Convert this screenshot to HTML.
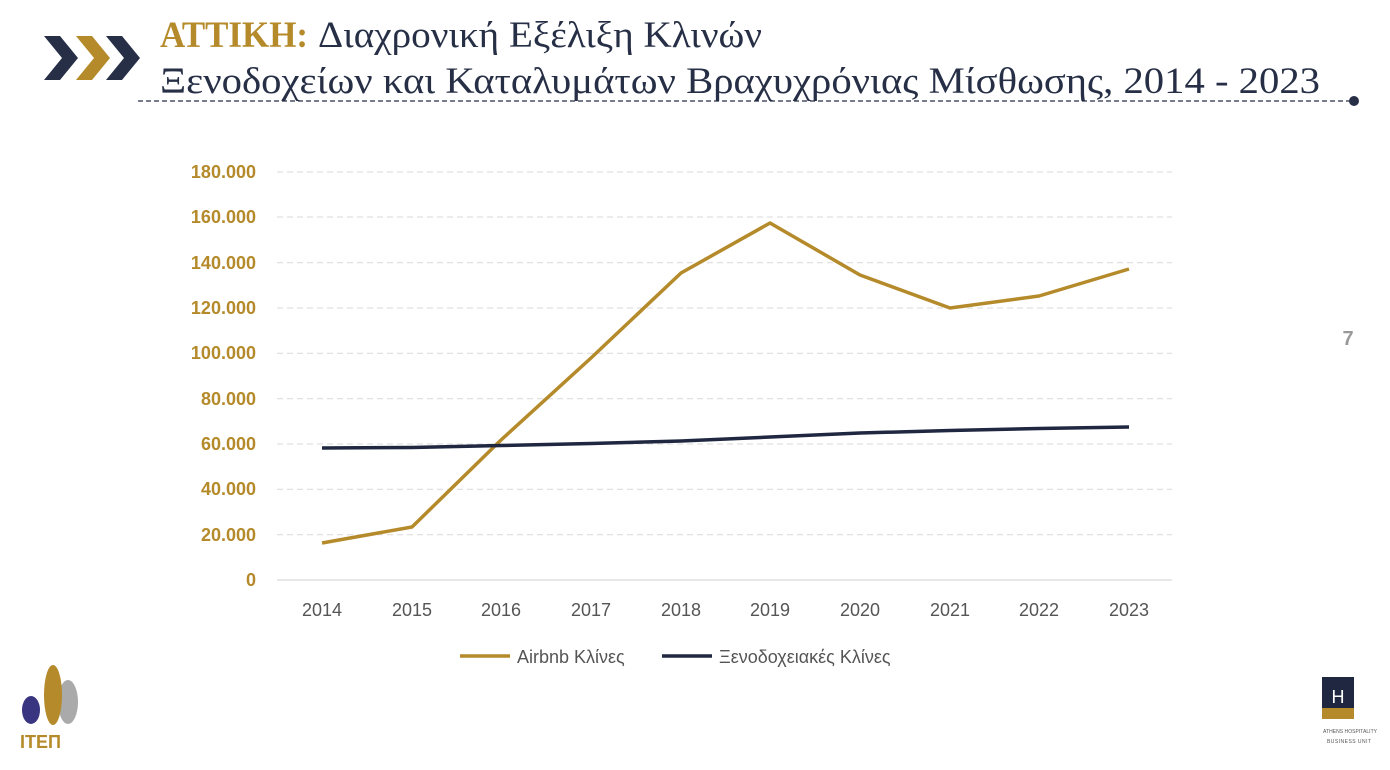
<!DOCTYPE html>
<html><head><meta charset="utf-8"><style>
body{margin:0;width:1390px;height:765px;background:#fff;overflow:hidden;font-family:"Liberation Sans",sans-serif}
</style></head><body>
<svg width="1390" height="765" xmlns="http://www.w3.org/2000/svg">
<polygon points="44,36 60,36 78,58 60,80 44,80 62,58" fill="#262f45"/>
<polygon points="76,36 92,36 110,58 92,80 76,80 94,58" fill="#b58a2a"/>
<polygon points="106,36 122,36 140,58 122,80 106,80 124,58" fill="#262f45"/>
<text x="160" y="47" font-family="Liberation Serif,serif" font-size="37" fill="#b58a2a" font-weight="bold" textLength="148" lengthAdjust="spacingAndGlyphs">ΑΤΤΙΚΗ:</text>
<text x="318" y="47" font-family="Liberation Serif,serif" font-size="37" fill="#262f45" textLength="444" lengthAdjust="spacingAndGlyphs">Διαχρονική Εξέλιξη Κλινών</text>
<text x="160" y="93" font-family="Liberation Serif,serif" font-size="37" fill="#262f45" textLength="1160" lengthAdjust="spacingAndGlyphs">Ξενοδοχείων και Καταλυμάτων Βραχυχρόνιας Μίσθωσης, 2014 - 2023</text>
<line x1="138" y1="101" x2="1350" y2="101" stroke="#262f45" stroke-width="1.2" stroke-dasharray="5,3"/>
<circle cx="1354" cy="101" r="5" fill="#262f45"/>
<text x="1348" y="345" font-size="20" fill="#999" font-weight="bold" text-anchor="middle">7</text>
<g stroke="#d9d9d9" stroke-dasharray="6,4" stroke-width="1">
<line x1="277" x2="1172" y1="172" y2="172"/><line x1="277" x2="1172" y1="217" y2="217"/><line x1="277" x2="1172" y1="262.7" y2="262.7"/><line x1="277" x2="1172" y1="308" y2="308"/><line x1="277" x2="1172" y1="353.3" y2="353.3"/><line x1="277" x2="1172" y1="398.7" y2="398.7"/><line x1="277" x2="1172" y1="444" y2="444"/><line x1="277" x2="1172" y1="489.3" y2="489.3"/><line x1="277" x2="1172" y1="534.7" y2="534.7"/>
</g>
<line x1="277" x2="1172" y1="580" y2="580" stroke="#d0d0d0"/>
<g font-size="18" fill="#b58a2a" font-weight="bold" text-anchor="end">
<text x="256" y="178">180.000</text><text x="256" y="223">160.000</text><text x="256" y="269">140.000</text><text x="256" y="314">120.000</text><text x="256" y="359">100.000</text><text x="256" y="405">80.000</text><text x="256" y="450">60.000</text><text x="256" y="495">40.000</text><text x="256" y="541">20.000</text><text x="256" y="586">0</text>
</g>
<g font-size="18" fill="#555" text-anchor="middle">
<text x="322" y="616">2014</text><text x="412" y="616">2015</text><text x="501" y="616">2016</text><text x="591" y="616">2017</text><text x="681" y="616">2018</text><text x="770" y="616">2019</text><text x="860" y="616">2020</text><text x="950" y="616">2021</text><text x="1039" y="616">2022</text><text x="1129" y="616">2023</text>
</g>
<polyline fill="none" stroke="#b58a2a" stroke-width="3.5" stroke-linejoin="round" points="322,543 412,527 501,440 591,358 681,273 770,223 860,275 950,308 1039,296 1129,269"/>
<polyline fill="none" stroke="#1f2840" stroke-width="3.5" stroke-linejoin="round" points="322,448 412,447.5 501,445.5 591,443.5 681,441 770,437 860,433 950,430.5 1039,428.5 1129,427"/>
<line x1="460" x2="510" y1="656" y2="656" stroke="#b58a2a" stroke-width="3.5"/>
<text x="517" y="663" font-size="18" fill="#555">Airbnb Κλίνες</text>
<line x1="662" x2="712" y1="656" y2="656" stroke="#1f2840" stroke-width="3.5"/>
<text x="719" y="663" font-size="18" fill="#555">Ξενοδοχειακές Κλίνες</text>
<ellipse cx="68" cy="702" rx="10" ry="22" fill="#aaa"/>
<ellipse cx="53" cy="695" rx="9" ry="30" fill="#b58a2a"/>
<ellipse cx="31" cy="710" rx="9" ry="14" fill="#3a3580"/>
<text x="20" y="748" font-size="18" fill="#b58a2a" font-weight="bold">ΙΤΕΠ</text>
<rect x="1322" y="677" width="32" height="42" fill="#1f2840"/>
<rect x="1322" y="708" width="32" height="11" fill="#b58a2a"/>
<text x="1338" y="703" font-size="18" fill="#fff" text-anchor="middle">H</text>
<text x="1323" y="733" font-size="5" fill="#555" textLength="54">ATHENS HOSPITALITY</text>
<text x="1327" y="743" font-size="5" fill="#555" textLength="44">BUSINESS UNIT</text>
</svg>
</body></html>
